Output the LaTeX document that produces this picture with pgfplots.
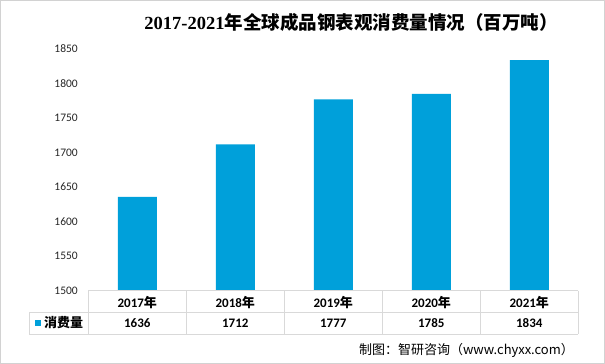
\documentclass[border=0pt]{standalone}
\usepackage{fontspec}
\setmainfont{Carlito}
\newfontfamily\cjk{Noto Sans CJK SC}
\newfontfamily\titlenum{Liberation Serif}
\usepackage{pgfplots}
\pgfplotsset{compat=1.18}
\definecolor{barblue}{RGB}{0,160,218}
\definecolor{tblgray}{RGB}{217,217,217}
\definecolor{framegray}{RGB}{210,210,210}
\begin{document}
\begin{tikzpicture}[x=1pt,y=1pt]
\fill[white] (0,0) rectangle (605,364);
\draw[framegray, line width=1.2pt] (0.6,0.6) rectangle (604.4,363.4);
\begin{axis}[
  at={(88.3pt,73.3pt)}, anchor=south west,
  scale only axis, width=490pt, height=241.7pt,
  xmin=-0.5, xmax=4.5, ymin=1500, ymax=1850,
  ytick={1500,1550,1600,1650,1700,1750,1800,1850},
  xtick=\empty,
  axis line style={draw=none},
  major tick length=0pt,
  yticklabel style={font=\fontsize{11.5}{13}\selectfont, xshift=-7pt, text=black!85},
  /pgf/number format/assume math mode=true,
  /pgf/number format/1000 sep={},
  ybar, bar width=39pt,
]
\addplot[fill=barblue, draw=none] coordinates {(0,1636) (1,1712) (2,1777) (3,1785) (4,1834)};
\end{axis}
% title
\node at (351,342) {\fontsize{18.5}{20}\selectfont\titlenum\bfseries 2017-2021\cjk\bfseries 年全球成品钢表观消费量情况（百万吨）};
% data table
\draw[tblgray] (88.3,73.3) -- (578.3,73.3);
\draw[tblgray] (29.3,51.7) -- (578.3,51.7);
\draw[tblgray] (29.3,30) -- (578.3,30);
\foreach \x in {88.3,186.3,284.3,382.3,480.3,578.3} \draw[tblgray] (\x,73.3) -- (\x,30);
\draw[tblgray] (29.3,51.7) -- (29.3,30);
\foreach \i/\yr/\v in {0/2017/1636,1/2018/1712,2/2019/1777,3/2020/1785,4/2021/1834} {
  \node[font=\fontsize{13}{15}\selectfont\bfseries] at (137.3+98*\i,61.5) {\yr{\cjk\bfseries 年}};
  \node[font=\fontsize{13}{15}\selectfont\bfseries] at (137.3+98*\i,41) {\v};
}
\fill[barblue] (35,38) rectangle (41,44);
\node[anchor=west, inner sep=0pt] at (44,41.2) {\fontsize{13}{15}\selectfont\cjk\bfseries 消费量};
% source
\node[anchor=east, inner sep=0pt] at (574,13.5) {\fontsize{13}{15}\selectfont\cjk 制图：智研咨询（www.chyxx.com）};
\end{tikzpicture}
\end{document}
